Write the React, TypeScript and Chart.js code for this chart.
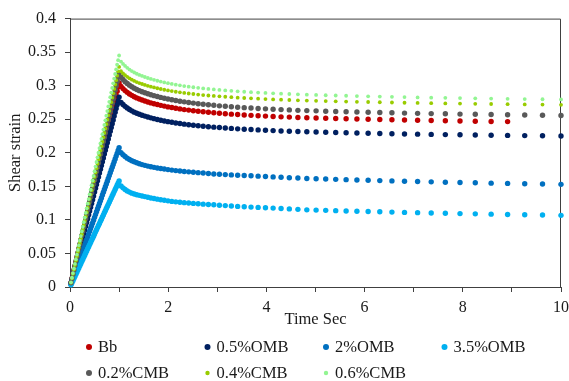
import { useEffect, useRef } from "react";
import { Chart, registerables } from "chart.js";

Chart.register(...registerables);

// Time (s): loading ramp, then recovery phase
const rampTime = [
  0.02, 0.04, 0.06, 0.08, 0.1, 0.12, 0.14, 0.16, 0.18, 0.2,
  0.22, 0.24, 0.26, 0.28, 0.3, 0.32, 0.34, 0.36, 0.38, 0.4,
  0.42, 0.44, 0.46, 0.48, 0.5, 0.52, 0.54, 0.56, 0.58, 0.6,
  0.62, 0.64, 0.66, 0.68, 0.7, 0.72, 0.74, 0.76, 0.78, 0.8,
  0.82, 0.84, 0.86, 0.88, 0.9, 0.92, 0.94, 0.96, 0.98,
];
const recoveryTime = [
  1.0, 1.0391, 1.0798, 1.122, 1.1659, 1.2115, 1.2589, 1.3082, 1.3594, 1.4125,
  1.4678, 1.5252, 1.5849, 1.6469, 1.7113, 1.7783, 1.8478, 1.9201, 1.9953, 2.0734,
  2.1544, 2.2387, 2.3263, 2.4173, 2.5119, 2.6102, 2.7123, 2.8184, 2.9286, 3.0432,
  3.1623, 3.286, 3.4145, 3.5481, 3.6869, 3.8312, 3.9811, 4.1368, 4.2987, 4.4668,
  4.6416, 4.8232, 5.0119, 5.208, 5.4117, 5.6234, 5.8434, 6.072, 6.3096, 6.5566,
  6.8129, 7.0795, 7.3564, 7.6443, 7.9433, 8.254, 8.577, 8.9125, 9.2612, 9.6235,
  10.0,
];
const timeSec = [...rampTime, ...recoveryTime];

const seriesNames = ["Bb", "0.5%OMB", "2%OMB", "3.5%OMB", "0.2%CMB", "0.4%CMB", "0.6%CMB"];

const bb = [
  0.0061, 0.0122, 0.0182, 0.0243, 0.0304, 0.0365, 0.0426, 0.0486, 0.0547, 0.0608,
  0.0669, 0.073, 0.079, 0.0851, 0.0912, 0.0973, 0.1034, 0.1094, 0.1155, 0.1216,
  0.1277, 0.1338, 0.1398, 0.1459, 0.152, 0.1581, 0.1642, 0.1702, 0.1763, 0.1824,
  0.1885, 0.1946, 0.2006, 0.2067, 0.2128, 0.2189, 0.225, 0.231, 0.2371, 0.2432,
  0.2493, 0.2554, 0.2614, 0.2675, 0.2736, 0.2797, 0.2858, 0.2918, 0.2979,
  0.304, 0.299, 0.2957, 0.2927, 0.2901, 0.2877, 0.2856, 0.2836, 0.2818, 0.2802,
  0.2786, 0.2772, 0.2758, 0.2744, 0.2732, 0.2719, 0.2707, 0.2696, 0.2684, 0.2674,
  0.2663, 0.2654, 0.2644, 0.2636, 0.2627, 0.2619, 0.2611, 0.2604, 0.2596, 0.2589,
  0.2583, 0.2576, 0.257, 0.2564, 0.2558, 0.2552, 0.2547, 0.2541, 0.2536, 0.2532,
  0.2527, 0.2522, 0.2519, 0.2514, 0.2511, 0.2507, 0.2503, 0.2499, 0.2496, 0.2492,
  0.2488, 0.2484, 0.2481, 0.2477, 0.2474, 0.2471, 0.2467, 0.2465,
];
const omb05 = [
  0.0057, 0.0113, 0.017, 0.0226, 0.0283, 0.034, 0.0396, 0.0453, 0.0509, 0.0566,
  0.0623, 0.0679, 0.0736, 0.0792, 0.0849, 0.0906, 0.0962, 0.1019, 0.1075, 0.1132,
  0.1189, 0.1245, 0.1302, 0.1358, 0.1415, 0.1472, 0.1528, 0.1585, 0.1641, 0.1698,
  0.1755, 0.1811, 0.1868, 0.1924, 0.1981, 0.2038, 0.2094, 0.2151, 0.2207, 0.2264,
  0.2321, 0.2377, 0.2434, 0.249, 0.2547, 0.2604, 0.266, 0.2717, 0.2773,
  0.283, 0.275, 0.2719, 0.2692, 0.2667, 0.2645, 0.2625, 0.2606, 0.2589, 0.2574,
  0.256, 0.2547, 0.2533, 0.2521, 0.2509, 0.2497, 0.2486, 0.2475, 0.2464, 0.2455,
  0.2445, 0.2436, 0.2427, 0.2419, 0.2411, 0.2403, 0.2396, 0.2389, 0.2382, 0.2376,
  0.237, 0.2364, 0.2357, 0.2352, 0.2347, 0.2341, 0.2336, 0.2331, 0.2326, 0.2322,
  0.2317, 0.2313, 0.231, 0.2306, 0.2302, 0.2299, 0.2295, 0.2292, 0.2288, 0.2285,
  0.2281, 0.2278, 0.2274, 0.2271, 0.2268, 0.2265, 0.2262, 0.2259, 0.2256, 0.2253,
  0.225,
];
const omb2 = [
  0.0042, 0.0083, 0.0125, 0.0166, 0.0208, 0.0249, 0.0291, 0.0332, 0.0374, 0.0415,
  0.0457, 0.0498, 0.054, 0.0581, 0.0623, 0.0664, 0.0706, 0.0747, 0.0789, 0.083,
  0.0872, 0.0913, 0.0955, 0.0996, 0.1038, 0.1079, 0.1121, 0.1162, 0.1204, 0.1245,
  0.1287, 0.1328, 0.137, 0.1411, 0.1453, 0.1494, 0.1536, 0.1577, 0.1619, 0.166,
  0.1702, 0.1743, 0.1785, 0.1826, 0.1868, 0.1909, 0.1951, 0.1992, 0.2034,
  0.2075, 0.2, 0.197, 0.1944, 0.192, 0.19, 0.1882, 0.1866, 0.1851, 0.1837,
  0.1824, 0.1813, 0.1802, 0.1792, 0.1783, 0.1774, 0.1766, 0.1758, 0.175, 0.1742,
  0.1735, 0.1728, 0.1722, 0.1716, 0.171, 0.1704, 0.1698, 0.1691, 0.1685, 0.168,
  0.1675, 0.1671, 0.1666, 0.1662, 0.1657, 0.1652, 0.1646, 0.1641, 0.1635, 0.1629,
  0.1624, 0.1618, 0.1613, 0.1609, 0.1604, 0.16, 0.1595, 0.159, 0.1586, 0.1581,
  0.1576, 0.1572, 0.1567, 0.1562, 0.1558, 0.1553, 0.1548, 0.1544, 0.1539, 0.1535,
  0.153,
];
const omb35 = [
  0.0032, 0.0063, 0.0095, 0.0126, 0.0158, 0.019, 0.0221, 0.0253, 0.0284, 0.0316,
  0.0348, 0.0379, 0.0411, 0.0442, 0.0474, 0.0506, 0.0537, 0.0569, 0.06, 0.0632,
  0.0664, 0.0695, 0.0727, 0.0758, 0.079, 0.0822, 0.0853, 0.0885, 0.0916, 0.0948,
  0.098, 0.1011, 0.1043, 0.1074, 0.1106, 0.1138, 0.1169, 0.1201, 0.1232, 0.1264,
  0.1296, 0.1327, 0.1359, 0.139, 0.1422, 0.1454, 0.1485, 0.1517, 0.1548,
  0.158, 0.1505, 0.1478, 0.1453, 0.1431, 0.1414, 0.1399, 0.1386, 0.1375, 0.1366,
  0.1357, 0.1347, 0.1337, 0.1327, 0.1318, 0.1309, 0.13, 0.1292, 0.1284, 0.1276,
  0.1269, 0.1263, 0.1257, 0.1251, 0.1246, 0.124, 0.1235, 0.123, 0.1225, 0.1219,
  0.1213, 0.1207, 0.1201, 0.1196, 0.1191, 0.1186, 0.1181, 0.1176, 0.1171, 0.1164,
  0.1157, 0.115, 0.1146, 0.1142, 0.1138, 0.1133, 0.1129, 0.1125, 0.1121, 0.1116,
  0.1112, 0.1108, 0.1103, 0.1099, 0.1094, 0.109, 0.1086, 0.1081, 0.1077, 0.1072,
  0.1068,
];
const cmb02 = [
  0.0064, 0.0128, 0.0191, 0.0255, 0.0319, 0.0383, 0.0447, 0.051, 0.0574, 0.0638,
  0.0702, 0.0766, 0.0829, 0.0893, 0.0957, 0.1021, 0.1085, 0.1148, 0.1212, 0.1276,
  0.134, 0.1404, 0.1467, 0.1531, 0.1595, 0.1659, 0.1723, 0.1786, 0.185, 0.1914,
  0.1978, 0.2042, 0.2105, 0.2169, 0.2233, 0.2297, 0.2361, 0.2424, 0.2488, 0.2552,
  0.2616, 0.268, 0.2743, 0.2807, 0.2871, 0.2935, 0.2999, 0.3062, 0.3126,
  0.319, 0.3127, 0.3092, 0.306, 0.3032, 0.3007, 0.2984, 0.2963, 0.2944, 0.2926,
  0.291, 0.2895, 0.288, 0.2865, 0.2852, 0.2839, 0.2826, 0.2814, 0.2801, 0.279,
  0.2779, 0.2769, 0.2759, 0.275, 0.2741, 0.2731, 0.2723, 0.2716, 0.2708, 0.27,
  0.2693, 0.2686, 0.2679, 0.2673, 0.2667, 0.2661, 0.2655, 0.2649, 0.2644, 0.2639,
  0.2633, 0.2629, 0.2625, 0.262, 0.2616, 0.2612, 0.2608, 0.2604, 0.26, 0.2596,
  0.2592, 0.2588, 0.2584, 0.2581, 0.2577, 0.2574, 0.257, 0.2567, 0.2563, 0.256,
  0.2557,
];
const cmb04 = [
  0.0066, 0.0131, 0.0197, 0.0262, 0.0328, 0.0394, 0.0459, 0.0525, 0.059, 0.0656,
  0.0722, 0.0787, 0.0853, 0.0918, 0.0984, 0.105, 0.1115, 0.1181, 0.1246, 0.1312,
  0.1378, 0.1443, 0.1509, 0.1574, 0.164, 0.1706, 0.1771, 0.1837, 0.1902, 0.1968,
  0.2034, 0.2099, 0.2165, 0.223, 0.2296, 0.2362, 0.2427, 0.2493, 0.2558, 0.2624,
  0.269, 0.2755, 0.2821, 0.2886, 0.2952, 0.3018, 0.3083, 0.3149, 0.3214,
  0.328, 0.3215, 0.3184, 0.3157, 0.3132, 0.311, 0.309, 0.3071, 0.3054, 0.3039,
  0.3025, 0.3012, 0.2998, 0.2986, 0.2974, 0.2962, 0.2951, 0.294, 0.2929, 0.292,
  0.291, 0.2901, 0.2892, 0.2884, 0.2876, 0.2868, 0.2861, 0.2854, 0.2847, 0.2841,
  0.2835, 0.2829, 0.2822, 0.2817, 0.2812, 0.2806, 0.2801, 0.2796, 0.2791, 0.2787,
  0.2782, 0.2778, 0.2775, 0.2771, 0.2767, 0.2764, 0.276, 0.2757, 0.2753, 0.275,
  0.2746, 0.2743, 0.2739, 0.2736, 0.2733, 0.273, 0.2727, 0.2724, 0.2721, 0.2718,
  0.2715,
];
const cmb06 = [
  0.0069, 0.0138, 0.0207, 0.0276, 0.0345, 0.0414, 0.0483, 0.0552, 0.0621, 0.069,
  0.0759, 0.0828, 0.0897, 0.0966, 0.1035, 0.1104, 0.1173, 0.1242, 0.1311, 0.138,
  0.1449, 0.1518, 0.1587, 0.1656, 0.1725, 0.1794, 0.1863, 0.1932, 0.2001, 0.207,
  0.2139, 0.2208, 0.2277, 0.2346, 0.2415, 0.2484, 0.2553, 0.2622, 0.2691, 0.276,
  0.2829, 0.2898, 0.2967, 0.3036, 0.3105, 0.3174, 0.3243, 0.3312, 0.3381,
  0.345, 0.336, 0.3325, 0.3294, 0.3266, 0.3241, 0.3218, 0.3197, 0.3178, 0.3161,
  0.3145, 0.313, 0.3115, 0.3101, 0.3087, 0.3074, 0.3061, 0.3049, 0.3037, 0.3026,
  0.3015, 0.3005, 0.2995, 0.2986, 0.2977, 0.2968, 0.296, 0.2952, 0.2944, 0.2937,
  0.293, 0.2923, 0.2916, 0.291, 0.2904, 0.2898, 0.2892, 0.2886, 0.2881, 0.2876,
  0.2871, 0.2866, 0.2862, 0.2858, 0.2854, 0.285, 0.2846, 0.2842, 0.2838, 0.2834,
  0.283, 0.2826, 0.2822, 0.2819, 0.2815, 0.2812, 0.2808, 0.2805, 0.2801, 0.2798,
  0.2795,
];

const seriesValues = [bb, omb05, omb2, omb35, cmb02, cmb04, cmb06];
const seriesColors = ["#C00000", "#002060", "#0070C0", "#00B0F0", "#595959", "#99CC00", "#92F592"];
const seriesRadius = [2.7, 2.7, 2.7, 2.7, 2.7, 1.9, 1.9];

const xTickLabels = ["0", "", "2", "", "4", "", "6", "", "8", "", "10"];
const yTickLabels = ["0", "0.05", "0.1", "0.15", "0.2", "0.25", "0.3", "0.35", "0.4"];

const FONT = '"Liberation Serif", "Times New Roman", serif';
const TEXT = "#1a1a1a";
const AXIS = "#404040";

const frameAndLegend = {
  id: "frameAndLegend",
  beforeDatasetsDraw(chart: any) {
    const { ctx, chartArea } = chart;
    ctx.save();
    ctx.strokeStyle = AXIS;
    ctx.lineWidth = 1;
    ctx.beginPath();
    ctx.moveTo(chartArea.left, chartArea.top + 0.5);
    ctx.lineTo(chartArea.right - 0.5, chartArea.top + 0.5);
    ctx.lineTo(chartArea.right - 0.5, chartArea.bottom);
    ctx.stroke();
    ctx.restore();
  },
  afterDraw(chart: any) {
    const { ctx } = chart;
    ctx.save();
    ctx.font = "16.5px " + FONT;
    ctx.textBaseline = "middle";
    ctx.textAlign = "left";
    seriesNames.forEach((name, i) => {
      const row = i < 4 ? 0 : 1;
      const col = i < 4 ? i : i - 4;
      const cx = 89 + col * 118.5;
      const cy = 347 + row * 26;
      ctx.fillStyle = seriesColors[i];
      ctx.beginPath();
      ctx.arc(cx, cy, seriesRadius[i] + 0.3, 0, Math.PI * 2);
      ctx.fill();
      ctx.fillStyle = TEXT;
      ctx.fillText(name, cx + 9, cy + 1);
    });
    ctx.restore();
  },
};

export default function App() {
  const ref = useRef<HTMLCanvasElement | null>(null);
  useEffect(() => {
    if (!ref.current) return;
    const datasets = seriesValues.map((vals, i) => ({
      label: seriesNames[i],
      data: vals.map((v, j) => ({ x: timeSec[j], y: v })),
      backgroundColor: seriesColors[i],
      borderColor: seriesColors[i],
      pointRadius: seriesRadius[i],
      pointBorderWidth: 0,
      pointHoverRadius: seriesRadius[i],
      showLine: false,
      clip: false as any,
      order: seriesNames.length - i,
    }));
    const chart = new Chart(ref.current, {
      type: "scatter",
      data: { datasets },
      options: {
        animation: false,
        responsive: false,
        layout: { padding: { left: 0, top: 15, right: 8, bottom: 51 } },
        plugins: { legend: { display: false }, tooltip: { enabled: false } },
        scales: {
          x: {
            type: "linear",
            min: 0,
            max: 10,
            afterFit: (s: any) => {
              s.height = 43;
              s.paddingLeft = 0;
              s.paddingRight = 0;
            },
            ticks: {
              stepSize: 1,
              autoSkip: false,
              maxRotation: 0,
              padding: 6,
              color: TEXT,
              font: { family: FONT, size: 16 },
              callback: (_v: any, idx: number) => xTickLabels[idx],
            },
            grid: { drawOnChartArea: false, drawTicks: true, tickLength: 5, color: AXIS },
            border: { display: true, color: AXIS, width: 1 },
            title: {
              display: true,
              text: "Time Sec",
              color: TEXT,
              font: { family: FONT, size: 16.5 },
              padding: { top: 0, bottom: 0 },
            },
          },
          y: {
            type: "linear",
            min: 0,
            max: 0.4,
            afterFit: (s: any) => {
              s.width = 70;
            },
            ticks: {
              stepSize: 0.05,
              autoSkip: false,
              padding: 9,
              color: TEXT,
              font: { family: FONT, size: 16 },
              callback: (_v: any, idx: number) => yTickLabels[idx],
            },
            grid: { drawOnChartArea: false, drawTicks: true, tickLength: 5, color: AXIS },
            border: { display: true, color: AXIS, width: 1 },
            title: {
              display: true,
              text: "Shear strain",
              color: TEXT,
              font: { family: FONT, size: 16.5 },
              padding: { top: 6, bottom: 0 },
            },
          },
        },
      },
      plugins: [frameAndLegend],
    });
    return () => chart.destroy();
  }, []);
  return (
    <div style={{ position: "absolute", left: 0, top: 0, width: 569, height: 381, background: "#fff" }}>
      <canvas ref={ref} width={569} height={381} style={{ display: "block" }} />
    </div>
  );
}
